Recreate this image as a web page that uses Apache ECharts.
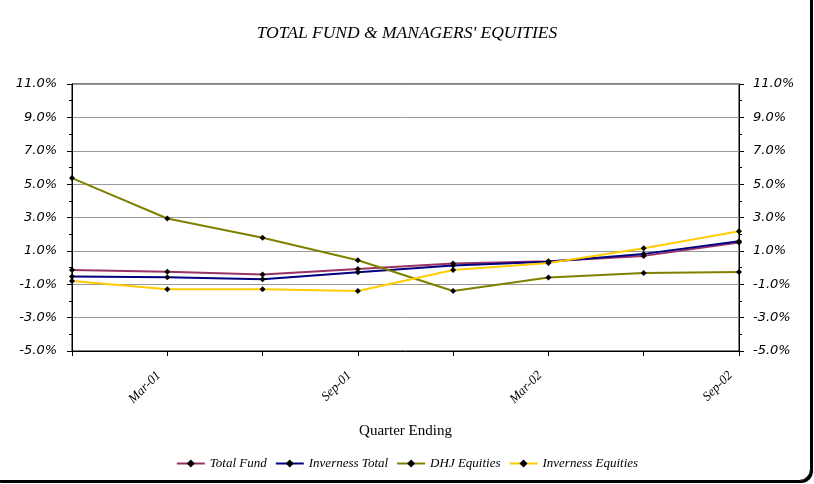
<!DOCTYPE html>
<html>
<head>
<meta charset="utf-8">
<script src="https://cdn.jsdelivr.net/npm/echarts@6/dist/echarts.min.js"></script>
<style>
html,body{margin:0;padding:0;background:#fff;overflow:hidden;}
#frame{position:absolute;left:-12px;top:-12px;width:821px;height:491px;border:1px solid #000;border-radius:12px;box-shadow:2px 2px 0 #000;background:#fff;}
#chart{position:absolute;left:0;top:0;width:814px;height:484px;}
</style>
</head>
<body>
<div id="frame"></div>
<div id="chart"></div>
<script>
const categories = ['Dec-00','Mar-01','Jun-01','Sep-01','Dec-01','Mar-02','Jun-02','Sep-02'];
const totalFund = [-0.15, -0.25, -0.41, -0.08, 0.24, 0.38, 0.70, 1.50];
const invernessTotal = [-0.54, -0.58, -0.70, -0.28, 0.12, 0.35, 0.82, 1.57];
const dhjEquities = [5.36, 2.94, 1.79, 0.44, -1.40, -0.60, -0.33, -0.27];
const invernessEquities = [-0.80, -1.30, -1.30, -1.40, -0.14, 0.28, 1.16, 2.17];
const seriesNames = ['Total Fund','Inverness Total','DHJ Equities','Inverness Equities'];
const seriesColors = ['#993366','#000080','#808000','#FFCC00'];
const seriesData = [totalFund, invernessTotal, dhjEquities, invernessEquities];

const chart = echarts.init(document.getElementById('chart'));
const serif = '"Liberation Serif", "DejaVu Serif", serif';
const sans = '"DejaVu Sans", Verdana, sans-serif';
const yAxisCommon = {
  type: 'value', min: -5, max: 11, interval: 2,
  axisLine: {show: true, lineStyle: {color: '#000', width: 1}},
  axisTick: {show: true, length: 5, lineStyle: {color: '#000'}},
  minorTick: {show: true, splitNumber: 2, length: 3, lineStyle: {color: '#000'}},
  axisLabel: {fontFamily: sans, fontStyle: 'italic', fontSize: 13, color: '#000',
    formatter: v => v.toFixed(1) + '%'}
};
chart.setOption({
  animation: false,
  backgroundColor: 'transparent',
  title: {text: "TOTAL FUND & MANAGERS' EQUITIES", left: 'center', top: 19,
    textStyle: {fontFamily: serif, fontStyle: 'italic', fontWeight: 'normal', fontSize: 17.5, color: '#000'}},
  grid: {left: 72, right: 75, top: 84, bottom: 133, show: true, borderColor: '#000', borderWidth: 1, backgroundColor: 'transparent'},
  legend: {bottom: 9, left: 'center', itemWidth: 28, itemHeight: 10, itemGap: 8,
    textStyle: {fontFamily: serif, fontStyle: 'italic', fontSize: 13, color: '#000'},
    data: seriesNames},
  xAxis: {type: 'category', data: categories, boundaryGap: false,
    name: 'Quarter Ending', nameLocation: 'middle', nameGap: 73,
    nameTextStyle: {fontFamily: serif, fontSize: 15, color: '#000'},
    axisLine: {onZero: false, lineStyle: {color: '#000'}},
    axisTick: {show: true, length: 5, interval: 0, lineStyle: {color: '#000'}},
    axisLabel: {rotate: 45, interval: (i) => i % 2 === 1, fontFamily: serif, fontStyle: 'italic', fontSize: 13, color: '#000', margin: 14, padding: [0, 12, 0, 0]},
    splitLine: {show: false}},
  yAxis: [
    Object.assign({}, yAxisCommon, {position: 'left', axisLabel: Object.assign({}, yAxisCommon.axisLabel, {margin: 15}), splitLine: {show: true, lineStyle: {color: '#999', width: 1}}}),
    Object.assign({}, yAxisCommon, {position: 'right', axisLabel: Object.assign({}, yAxisCommon.axisLabel, {margin: 14}), splitLine: {show: false}})
  ],
  series: seriesNames.map((n, i) => ({
    name: n, type: 'line', data: seriesData[i], yAxisIndex: 0,
    symbol: 'diamond', symbolSize: 6, showSymbol: true,
    lineStyle: {color: seriesColors[i], width: 2},
    itemStyle: {color: '#000', borderWidth: 0},
    color: seriesColors[i]
  }))
});
</script>
</body>
</html>
